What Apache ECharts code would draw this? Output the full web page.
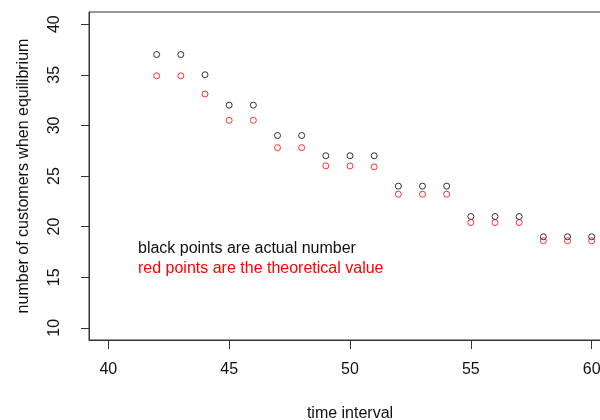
<!DOCTYPE html>
<html>
<head>
<meta charset="utf-8">
<script src="https://cdn.jsdelivr.net/npm/echarts@6/dist/echarts.min.js"></script>
<style>
  html, body { margin: 0; padding: 0; background: #fff; }
  #chart { width: 600px; height: 420px; }
</style>
</head>
<body>
<div id="chart"></div>
<script>
// Time intervals on the x axis
var timeInterval = [42, 43, 44, 45, 46, 47, 48, 49, 50, 51, 52, 53, 54, 55, 56, 57, 58, 59, 60];
// Observed number of customers at equilibrium
var actualCustomers = [37, 37, 35, 32, 32, 29, 29, 27, 27, 27, 24, 24, 24, 21, 21, 21, 19, 19, 19];
// Theoretical number of customers at equilibrium
var theoreticalCustomers = [34.9, 34.9, 33.1, 30.5, 30.5, 27.8, 27.8, 26.0, 26.0, 25.9, 23.2, 23.2, 23.2, 20.4, 20.4, 20.4, 18.6, 18.6, 18.6];
// Tick labels
var xTicks = [40, 45, 50, 55, 60];
var yTicks = [10, 15, 20, 25, 30, 35, 40];

function pairs(xs, ys) {
  return xs.map(function (x, i) { return [x, ys[i]]; });
}

var FONT = '"Liberation Sans", Arial, sans-serif';
var AXIS_COLOR = '#333';

var chart = echarts.init(document.getElementById('chart'), null, { renderer: 'canvas' });

chart.setOption({
  animation: false,
  backgroundColor: '#fff',
  grid: {
    left: 89, top: 12, width: 522, height: 328,
    outerBoundsMode: 'none',
    containLabel: false,
    show: true, borderColor: AXIS_COLOR, borderWidth: 1, backgroundColor: 'transparent'
  },
  xAxis: {
    type: 'value',
    min: 39.2, max: 60.8,
    name: 'time interval',
    nameLocation: 'middle',
    nameGap: 66,
    nameTextStyle: { fontFamily: FONT, fontSize: 16, color: '#111' },
    axisLine: { show: true, onZero: false, lineStyle: { color: AXIS_COLOR } },
    axisTick: { show: true, length: 9, inside: false, customValues: xTicks, lineStyle: { color: AXIS_COLOR } },
    axisLabel: { customValues: xTicks, margin: 22, fontFamily: FONT, fontSize: 16, color: '#111' },
    splitLine: { show: false }
  },
  yAxis: {
    type: 'value',
    min: 8.8, max: 41.2,
    name: 'number of customers when equilibrium',
    nameLocation: 'middle',
    nameGap: 57,
    nameRotate: 90,
    nameTextStyle: { fontFamily: FONT, fontSize: 16, color: '#111' },
    axisLine: { show: true, onZero: false, lineStyle: { color: AXIS_COLOR } },
    axisTick: { show: true, length: 8, inside: false, customValues: yTicks, lineStyle: { color: AXIS_COLOR } },
    axisLabel: { customValues: yTicks, rotate: 90, margin: 26, fontFamily: FONT, fontSize: 16, color: '#111' },
    splitLine: { show: false }
  },
  series: [
    {
      name: 'actual',
      type: 'scatter',
      data: pairs(timeInterval, actualCustomers),
      symbol: 'circle',
      symbolSize: 6,
      itemStyle: { color: 'transparent', borderColor: '#000', borderWidth: 1 }
    },
    {
      name: 'theoretical',
      type: 'scatter',
      data: pairs(timeInterval, theoreticalCustomers),
      symbol: 'circle',
      symbolSize: 6,
      itemStyle: { color: 'transparent', borderColor: '#ff0000', borderWidth: 1 }
    }
  ],
  graphic: [
    {
      type: 'text', left: 138, top: 241,
      style: { text: 'black points are actual number', fontFamily: FONT, fontSize: 16, fill: '#111' }
    },
    {
      type: 'text', left: 138, top: 261,
      style: { text: 'red points are the theoretical value', fontFamily: FONT, fontSize: 16, fill: '#ff0000' }
    }
  ]
});
</script>
</body>
</html>
